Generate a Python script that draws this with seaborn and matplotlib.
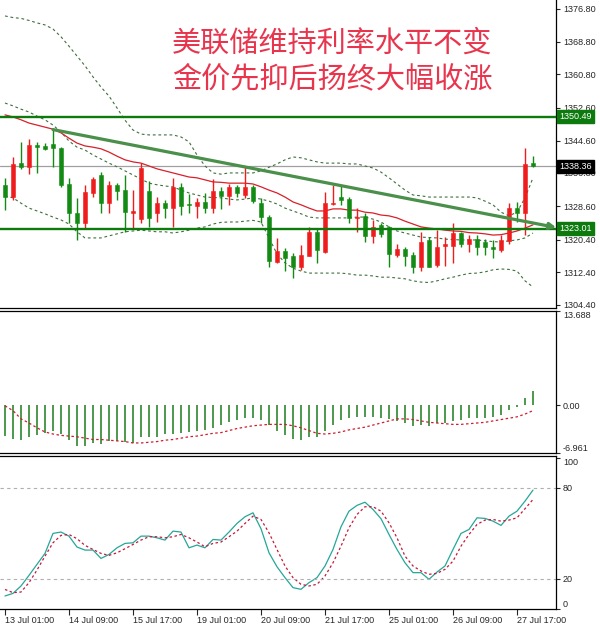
import matplotlib
matplotlib.use("Agg")
import matplotlib.pyplot as plt
import matplotlib.transforms as mtransforms
import seaborn as sns
import numpy as np
import pandas as pd

# --- Datos (velas de 4 horas, oro) ---
opens = [1333.75, 1330.7, 1339.05, 1338.2, 1343.3, 1343.3, 1343.8, 1342.9, 1334.0, 1327.0,
         1324.4, 1331.9, 1336.2, 1329.4, 1333.75, 1332.5, 1327.0, 1325.5, 1332.3, 1326.8,
         1329.3, 1328.0, 1333.2, 1328.9, 1328.5, 1329.5, 1328.0, 1332.3, 1331.1, 1333.2,
         1331.3, 1333.2, 1329.4, 1326.0, 1315.0, 1317.6, 1316.4, 1313.6, 1316.5, 1322.2,
         1317.4, 1329.0, 1330.9, 1330.25, 1325.6, 1326.1, 1321.3, 1324.0, 1323.4, 1316.6,
         1318.0, 1316.6, 1313.8, 1320.3, 1314.2, 1318.8, 1318.8, 1322.1, 1319.3, 1320.5,
         1319.9, 1318.7, 1317.8, 1320.1, 1328.0, 1327.0, 1339.2]
highs = [1335.5, 1340.7, 1344.2, 1344.9, 1344.3, 1344.1, 1347.2, 1343.1, 1335.4, 1330.5,
         1333.75, 1335.8, 1337.0, 1334.8, 1334.2, 1336.2, 1332.5, 1339.05, 1334.8, 1330.7,
         1330.1, 1335.4, 1334.2, 1331.5, 1330.5, 1331.7, 1335.1, 1333.3, 1334.0, 1333.75,
         1338.4, 1333.75, 1330.5, 1326.4, 1320.7, 1318.3, 1317.0, 1319.1, 1323.5, 1323.2,
         1332.1, 1333.75, 1333.75, 1330.9, 1328.0, 1327.0, 1325.2, 1324.4, 1323.7, 1319.3,
         1318.5, 1317.4, 1322.3, 1321.1, 1322.7, 1321.1, 1324.5, 1322.3, 1321.5, 1321.5,
         1320.5, 1320.3, 1321.5, 1329.3, 1329.5, 1342.7, 1340.8]
lows = [1327.6, 1330.2, 1337.6, 1336.4, 1336.8, 1342.4, 1338.2, 1333.3, 1324.4, 1320.3,
        1323.2, 1330.7, 1326.8, 1326.8, 1330.1, 1322.3, 1323.2, 1324.5, 1323.5, 1324.8,
        1325.6, 1323.4, 1326.4, 1326.8, 1325.6, 1326.8, 1326.8, 1327.8, 1328.85, 1330.7,
        1330.5, 1329.3, 1324.4, 1313.6, 1314.7, 1312.8, 1310.9, 1313.0, 1316.4, 1314.6,
        1317.0, 1328.85, 1328.85, 1324.4, 1322.3, 1319.9, 1319.6, 1321.1, 1313.6, 1316.2,
        1314.0, 1312.3, 1312.8, 1313.6, 1313.8, 1314.0, 1314.7, 1318.7, 1317.4, 1316.6,
        1316.6, 1315.8, 1317.4, 1319.3, 1324.8, 1321.5, 1338.1]
closes = [1330.9, 1338.9, 1338.2, 1343.5, 1343.1, 1342.6, 1342.7, 1333.75, 1326.8, 1324.4,
          1332.1, 1335.2, 1329.3, 1333.75, 1332.4, 1327.2, 1327.4, 1337.8, 1325.6, 1329.3,
          1328.0, 1333.3, 1328.6, 1328.8, 1329.5, 1328.0, 1332.3, 1331.1, 1333.2, 1331.9,
          1333.2, 1329.9, 1325.8, 1315.2, 1317.6, 1315.8, 1313.6, 1316.6, 1322.2, 1317.8,
          1329.3, 1329.3, 1330.1, 1325.6, 1325.9, 1321.3, 1323.5, 1321.8, 1316.8, 1318.1,
          1316.5, 1313.8, 1319.9, 1313.8, 1318.7, 1319.3, 1321.9, 1319.3, 1320.5, 1318.7,
          1318.5, 1318.0, 1320.3, 1328.0, 1326.8, 1338.9, 1338.36]

ma_red = [1350.9, 1350.4, 1349.7, 1348.9, 1348.4, 1347.9, 1347.4, 1346.5, 1345.2, 1344.0,
          1343.3, 1343.0, 1342.6, 1341.8, 1340.8, 1339.9, 1339.4, 1339.1, 1338.4, 1337.7,
          1337.2, 1336.7, 1336.2, 1335.7, 1335.5, 1335.0, 1334.5, 1334.4, 1334.2, 1334.2,
          1334.2, 1334.0, 1333.3, 1332.5, 1331.8, 1330.8, 1329.6, 1328.9, 1328.1, 1327.4,
          1327.4, 1327.9, 1327.9, 1327.6, 1327.6, 1327.1, 1326.9, 1326.4, 1326.2, 1325.7,
          1324.9, 1324.2, 1323.5, 1323.2, 1323.0, 1322.7, 1322.5, 1322.4, 1322.1, 1322.0,
          1321.8, 1321.5, 1321.6, 1322.0, 1322.5, 1323.2, 1324.0]
bb_upper = [1375.1, 1374.7, 1374.5, 1374.0, 1373.4, 1372.9, 1371.9, 1370.0, 1367.7, 1365.3,
            1362.9, 1360.2, 1357.7, 1355.5, 1352.6, 1349.6, 1347.2, 1346.2, 1346.0, 1346.0,
            1346.0, 1346.0, 1345.5, 1344.3, 1341.1, 1338.4, 1336.7, 1336.4, 1336.7, 1336.7,
            1336.7, 1336.7, 1337.2, 1338.1, 1338.9, 1339.9, 1340.6, 1340.4, 1339.9, 1339.4,
            1339.1, 1339.1, 1339.1, 1338.9, 1338.9, 1338.4, 1337.9, 1336.9, 1335.5, 1334.0,
            1332.5, 1331.3, 1331.1, 1330.8, 1330.8, 1330.8, 1330.8, 1330.8, 1330.8, 1330.6,
            1329.8, 1328.9, 1327.1, 1326.2, 1327.1, 1330.6, 1335.5]
bb_mid = [1353.8, 1353.1, 1352.3, 1351.6, 1350.6, 1349.7, 1348.4, 1346.7, 1344.5, 1343.0,
          1342.3, 1341.1, 1340.1, 1339.1, 1338.2, 1337.2, 1336.2, 1335.2, 1334.2, 1333.8,
          1333.5, 1333.3, 1332.5, 1331.8, 1331.3, 1330.8, 1330.7, 1330.6, 1330.3, 1330.1,
          1330.3, 1330.6, 1330.3, 1329.8, 1329.1, 1328.1, 1327.4, 1326.7, 1325.9, 1325.7,
          1325.7, 1325.7, 1325.7, 1325.7, 1325.9, 1325.9, 1325.4, 1324.7, 1323.5, 1322.5,
          1322.0, 1321.5, 1321.0, 1320.9, 1320.8, 1320.5, 1320.4, 1320.3, 1320.3, 1320.3,
          1320.1, 1319.9, 1319.8, 1320.1, 1320.3, 1320.8, 1322.0]
bb_lower = [1331.1, 1330.6, 1329.3, 1328.1, 1327.4, 1326.7, 1325.9, 1325.2, 1324.2, 1322.3,
            1320.8, 1320.8, 1320.8, 1321.3, 1321.8, 1322.3, 1322.5, 1322.7, 1322.5, 1322.3,
            1322.3, 1322.0, 1322.3, 1322.7, 1323.2, 1323.5, 1324.2, 1324.6, 1324.7, 1324.7,
            1324.9, 1325.1, 1324.7, 1320.8, 1316.9, 1314.7, 1313.4, 1312.7, 1312.2, 1312.2,
            1312.2, 1312.2, 1312.2, 1312.0, 1311.7, 1311.7, 1311.5, 1311.2, 1311.2, 1311.0,
            1310.8, 1310.3, 1310.0, 1309.9, 1310.3, 1310.8, 1311.2, 1311.7, 1312.1, 1312.2,
            1312.5, 1313.0, 1313.2, 1313.1, 1312.7, 1310.3, 1308.8]

macd_hist = [-4.5, -4.9, -5.0, -4.6, -4.4, -4.0, -3.8, -4.2, -5.0, -5.9,
             -5.9, -5.5, -5.7, -5.2, -5.2, -5.4, -5.5, -4.6, -4.7, -4.6,
             -4.2, -4.2, -4.0, -3.9, -3.8, -3.6, -3.3, -2.9, -2.5, -2.1,
             -1.8, -1.9, -2.1, -2.9, -3.7, -4.4, -4.9, -5.0, -4.6, -4.6,
             -3.7, -2.9, -2.1, -1.8, -1.7, -1.7, -1.7, -1.8, -2.0, -2.3,
             -2.6, -3.0, -2.9, -3.1, -2.6, -2.6, -2.3, -2.1, -1.8, -1.8,
             -1.8, -1.7, -1.5, -0.7, -0.2, 1.0, 2.0]
macd_signal = [-0.1, -0.8, -2.0, -2.6, -3.3, -3.9, -4.2, -4.4, -4.5, -4.6,
               -4.8, -5.0, -5.0, -5.1, -5.2, -5.3, -5.5, -5.5, -5.4, -5.3,
               -5.1, -5.0, -4.8, -4.6, -4.5, -4.3, -4.1, -4.0, -3.7, -3.4,
               -3.2, -3.0, -2.9, -2.8, -2.8, -2.8, -3.0, -3.3, -3.7, -4.1,
               -4.2, -4.1, -3.9, -3.6, -3.4, -3.2, -2.9, -2.6, -2.3, -2.0,
               -2.0, -2.1, -2.3, -2.5, -2.6, -2.7, -2.8, -2.8, -2.7, -2.6,
               -2.5, -2.3, -2.1, -1.9, -1.7, -1.3, -0.8]

stoch_k = [8.6, 10.3, 15.2, 22.2, 29.5, 36.7, 49.9, 50.8, 48.1, 40.9,
           38.9, 38.9, 33.4, 36.0, 40.4, 43.3, 43.7, 48.1, 48.1, 47.0,
           45.5, 51.4, 50.8, 40.4, 42.2, 40.4, 45.9, 45.5, 50.8, 56.5,
           60.9, 63.5, 53.0, 37.1, 27.9, 20.7, 14.1, 13.0, 17.4, 20.7,
           28.4, 39.3, 54.3, 64.6, 68.4, 70.5, 65.7, 59.6, 49.2, 39.3,
           30.5, 24.0, 24.0, 19.6, 24.4, 28.4, 39.3, 49.9, 52.5, 60.2,
           59.8, 58.0, 55.2, 61.3, 64.6, 71.2, 78.5]
stoch_d = [12.9, 10.8, 11.2, 17.4, 25.7, 34.9, 43.7, 48.6, 49.2, 46.4,
           42.0, 39.3, 36.7, 35.4, 37.1, 39.8, 42.6, 45.5, 47.7, 47.7,
           47.0, 47.7, 49.2, 47.0, 44.2, 41.1, 43.3, 44.2, 47.7, 51.4,
           56.5, 61.3, 59.1, 50.3, 39.3, 28.4, 20.7, 16.3, 15.2, 16.3,
           21.8, 30.5, 41.5, 53.6, 62.4, 67.5, 67.5, 64.6, 56.9, 47.0,
           34.9, 28.4, 25.1, 22.9, 23.5, 26.2, 31.6, 41.5, 49.2, 55.8,
           58.7, 59.1, 58.0, 58.7, 60.2, 66.2, 72.3]

level_lines = [1350.49, 1323.01]
last_price = 1338.36
trend_bars = [6, 68.9]
trend_prices = [1347.3, 1323.35]

price_ticks = [1376.80, 1368.80, 1360.80, 1352.60, 1344.60, 1336.80, 1328.60, 1320.40, 1312.40, 1304.40]
date_ticks = [0, 8, 16, 24, 32, 40, 48, 56, 64]
date_labels = ['13 Jul 01:00', '14 Jul 09:00', '15 Jul 17:00', '19 Jul 01:00', '20 Jul 09:00',
               '21 Jul 17:00', '25 Jul 01:00', '26 Jul 09:00', '27 Jul 17:00']
titulo = ['美联储维持利率水平不变', '金价先抑后扬终大幅收涨']

# --- Estilo ---
sns.set_style("white")
plt.rcParams['font.family'] = ['Liberation Sans', 'Noto Sans CJK SC', 'DejaVu Sans']

ROJO = '#ee1c1c'
VERDE = '#138a13'
VERDE_NIVEL = '#0d7a0d'
BANDA = '#3f6f3f'

df = pd.DataFrame({'open': opens, 'high': highs, 'low': lows, 'close': closes})
df['i'] = np.arange(len(df))
idx = df['i']

fig = plt.figure(figsize=(6, 6.27), dpi=100)
W, H = 600, 627


def caja(top, bottom, right=556):
    return [0, 1 - bottom / H, right / W, (bottom - top) / H]


ax = fig.add_axes(caja(0, 308))
ax_macd = fig.add_axes(caja(311, 453))
ax_st = fig.add_axes(caja(456, 609))

xlim = (-0.625, 68.875)

# --- Panel principal: velas ---
sube = df['close'] >= df['open']
colores = np.where(sube, ROJO, VERDE)
ax.vlines(idx, df['low'], df['high'], colors=colores, lw=1, zorder=3)
cuerpo = (df['close'] - df['open']).abs().clip(lower=0.35)
base = np.minimum(df['open'], df['close'])
ax.bar(idx, cuerpo, bottom=base, width=0.62, color=colores, edgecolor=colores, lw=0.4, zorder=4)

sns.lineplot(x=idx, y=bb_upper, ax=ax, color=BANDA, lw=0.8, linestyle=(0, (2.5, 2.5)), zorder=2)
sns.lineplot(x=idx, y=bb_mid, ax=ax, color=BANDA, lw=0.8, linestyle=(0, (2.5, 2.5)), zorder=2)
sns.lineplot(x=idx, y=bb_lower, ax=ax, color=BANDA, lw=0.8, linestyle=(0, (2.5, 2.5)), zorder=2)
sns.lineplot(x=idx, y=ma_red, ax=ax, color='#d8202a', lw=0.9, zorder=2)

ax.axhline(last_price, color='#a0a0a0', lw=0.9, zorder=1)
for nivel in level_lines:
    ax.axhline(nivel, color=VERDE_NIVEL, lw=1.7, zorder=5)

ax.annotate('', xy=(trend_bars[1], trend_prices[1]), xytext=(trend_bars[0], trend_prices[0]),
            arrowprops=dict(arrowstyle='-|>', color='#4a8f4a', lw=2.3, mutation_scale=9,
                            shrinkA=0, shrinkB=0),
            annotation_clip=False, zorder=6)

ax.set_xlim(*xlim)
ax.set_ylim(1303.66, 1379.0)
ax.yaxis.tick_right()
ax.set_yticks(price_ticks)
ax.set_yticklabels([f'{v:.2f}' for v in price_ticks])
ax.set_xticks([])

trans = mtransforms.blended_transform_factory(ax.transAxes, ax.transData)
for val, fc in [(level_lines[0], VERDE_NIVEL), (level_lines[1], VERDE_NIVEL), (last_price, 'black')]:
    ax.text(1.006, val, f'{val:.2f}', transform=trans, ha='left', va='center', fontsize=6.5,
            color='white', clip_on=False, zorder=10,
            bbox=dict(boxstyle='square,pad=0.22', fc=fc, ec=fc))

for k, linea in enumerate(titulo):
    fig.text(332 / W, 1 - (44 + 35 * k) / H, linea, ha='center', va='center', fontsize=21,
             color='#e8354d', family=['Noto Sans CJK SC'], fontweight='light')

# --- MACD ---
ax_macd.vlines(idx, 0, macd_hist, colors='#1d7d1d', lw=1.1)
sns.lineplot(x=idx, y=macd_signal, ax=ax_macd, color='#cc1f2f', lw=0.9, linestyle=(0, (2, 2)))
ax_macd.set_xlim(*xlim)
ax_macd.set_ylim(-6.961, 13.688)
ax_macd.yaxis.tick_right()
ax_macd.set_yticks([-6.961, 0, 13.688])
ax_macd.set_yticklabels(['-6.961', '0.00', '13.688'])
ax_macd.set_xticks([])

# --- Estocastico ---
sns.lineplot(x=idx, y=stoch_k, ax=ax_st, color='#26a69a', lw=0.9)
sns.lineplot(x=idx, y=stoch_d, ax=ax_st, color='#c8183a', lw=0.9, linestyle=(0, (2, 2)))
for nivel in (20, 80):
    ax_st.axhline(nivel, color='#b0b0b0', lw=0.8, linestyle=(0, (3, 3)))
ax_st.set_xlim(*xlim)
ax_st.set_ylim(0.2, 101)
ax_st.yaxis.tick_right()
ax_st.set_yticks([0, 20, 80, 100])
ax_st.set_yticklabels(['0', '20', '80', '100'])
ax_st.set_xticks(date_ticks)
ax_st.set_xticklabels(date_labels)
for lab in ax_st.get_xticklabels():
    lab.set_ha('left')
ax_st.tick_params(axis='x', direction='out', length=4, width=0.8, pad=1, labelsize=6.5, bottom=True)

for a in (ax, ax_macd, ax_st):
    a.set_xlabel('')
    a.set_ylabel('')
    a.tick_params(axis='y', direction='out', length=3, width=0.8, pad=2, labelsize=6.5,
                  right=True, left=False)
    for lado in ('top', 'bottom', 'right'):
        a.spines[lado].set_color('black')
        a.spines[lado].set_linewidth(0.9)
        a.spines[lado].set_visible(True)
    a.spines['left'].set_visible(False)
ax.spines['top'].set_visible(False)

# etiquetas extremas hacia dentro del panel
for a in (ax_macd, ax_st):
    labs = a.get_yticklabels()
    labs[0].set_va('bottom')
    labs[-1].set_va('top')

fig.savefig('out.png', dpi=100, facecolor='white')
